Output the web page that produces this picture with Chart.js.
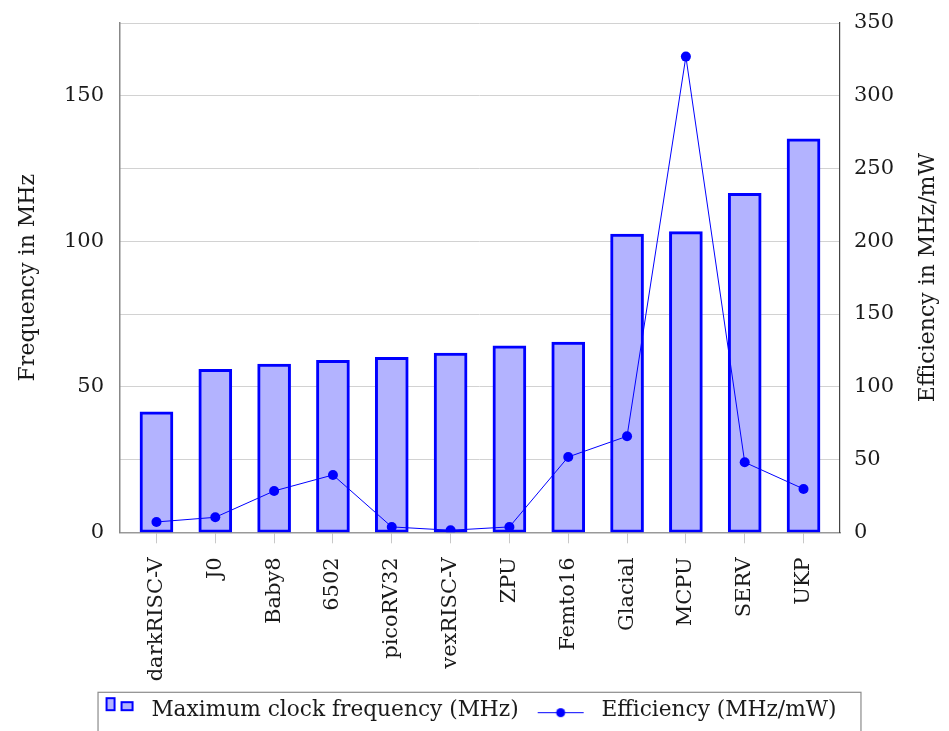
<!DOCTYPE html>
<html>
<head>
<meta charset="utf-8">
<script src="https://cdn.jsdelivr.net/npm/chart.js@4.4.0/dist/chart.umd.min.js"></script>
<style>
  html, body { margin: 0; padding: 0; background: #fff; }
  #wrap { width: 949px; height: 731px; }
</style>
</head>
<body>
<div id="wrap"><canvas id="cpuChart"></canvas></div>
<script>
const categories = ['darkRISC-V', 'J0', 'Baby8', '6502', 'picoRV32', 'vexRISC-V', 'ZPU', 'Femto16', 'Glacial', 'MCPU', 'SERV', 'UKP'];
const maxFrequency = [41.4, 56.0, 57.8, 59.1, 60.1, 61.6, 64.1, 65.4, 102.5, 103.3, 116.5, 135.2];
const efficiency = [7.1, 10.3, 28.4, 39.4, 3.7, 1.4, 3.7, 51.8, 66.0, 326.9, 48.1, 29.8];
const freqTicks = [0, 50, 100, 150];
const effTicks = [0, 50, 100, 150, 200, 250, 300, 350];

const serif = "'DejaVu Serif', serif";
const textColor = '#1a1a1a';
const blue = '#0000ff';
const lightBlue = '#b3b3ff';

// legend icons, drawn on small canvases
function barIcon() {
  const c = document.createElement('canvas');
  c.width = 62; c.height = 30;
  const g = c.getContext('2d');
  g.fillStyle = lightBlue;
  g.strokeStyle = blue;
  g.lineWidth = 2;
  g.fillRect(28, 3, 8, 12); g.strokeRect(28, 3, 8, 12);
  g.fillRect(43, 7, 11, 8); g.strokeRect(43, 7, 11, 8);
  return c;
}
function lineIcon() {
  const c = document.createElement('canvas');
  c.width = 62; c.height = 30;
  const g = c.getContext('2d');
  g.strokeStyle = blue;
  g.lineWidth = 1;
  g.beginPath(); g.moveTo(9, 17.5); g.lineTo(55, 17.5); g.stroke();
  g.fillStyle = blue;
  g.beginPath(); g.arc(32, 17.5, 4.5, 0, Math.PI * 2); g.fill();
  return c;
}
const icons = [barIcon(), lineIcon()];

// frame round the legend and the right axis title
const extras = {
  id: 'extras',
  afterDraw(chart) {
    const ctx = chart.ctx;
    const boxes = chart.legend.legendHitBoxes;
    if (boxes && boxes.length) {
      const first = boxes[0], last = boxes[boxes.length - 1];
      ctx.save();
      ctx.strokeStyle = '#8c8c8c';
      ctx.lineWidth = 1.2;
      ctx.strokeRect(first.left + 19.5, first.top - 7, last.left + last.width - first.left + 5, 60);
      ctx.restore();
    }
    const area = chart.chartArea;
    ctx.save();
    ctx.translate(928, (area.top + area.bottom) / 2);
    ctx.rotate(-Math.PI / 2);
    ctx.font = '22px ' + serif;
    ctx.fillStyle = textColor;
    ctx.textAlign = 'center';
    ctx.textBaseline = 'middle';
    ctx.fillText('Efficiency in MHz/mW', 0, 0);
    ctx.restore();
  }
};

const noPad = s => { s.paddingTop = 0; s.paddingBottom = 0; };

new Chart(document.getElementById('cpuChart'), {
  type: 'bar',
  data: {
    datasets: [{
      type: 'bar',
      label: 'Maximum clock frequency (MHz)',
      data: categories.map((c, i) => ({ x: i, y: maxFrequency[i] })),
      backgroundColor: lightBlue,
      borderColor: blue,
      borderWidth: 3,
      borderSkipped: false,
      barThickness: 33,
      yAxisID: 'yFreq',
      order: 2
    }, {
      type: 'line',
      label: 'Efficiency (MHz/mW)',
      data: categories.map((c, i) => ({ x: i, y: efficiency[i] })),
      borderColor: blue,
      backgroundColor: blue,
      borderWidth: 1,
      pointRadius: 5,
      pointBackgroundColor: blue,
      pointBorderWidth: 0,
      tension: 0,
      yAxisID: 'yEff',
      order: 1
    }]
  },
  options: {
    responsive: true,
    maintainAspectRatio: false,
    animation: false,
    layout: { padding: { top: 23, right: 34, left: 0, bottom: 0 } },
    plugins: {
      tooltip: { enabled: false },
      legend: {
        position: 'bottom',
        labels: {
          usePointStyle: true,
          pointStyleWidth: 62,
          padding: 10,
          color: textColor,
          font: { family: serif, size: 21.7 },
          sort: (a, b) => a.datasetIndex - b.datasetIndex,
          generateLabels(chart) {
            const items = Chart.defaults.plugins.legend.labels.generateLabels(chart);
            items.forEach(it => { it.pointStyle = icons[it.datasetIndex]; });
            return items;
          }
        }
      }
    },
    scales: {
      x: {
        type: 'linear',
        offset: false,
        min: -0.62,
        max: 11.62,
        afterBuildTicks: s => { s.ticks = categories.map((c, i) => ({ value: i })); },
        afterFit: s => { s.height = 157; },
        ticks: {
          callback: v => categories[v],
          minRotation: 90,
          maxRotation: 90,
          autoSkip: false,
          padding: 14,
          color: textColor,
          font: { family: serif, size: 21 }
        },
        grid: { offset: false, drawOnChartArea: false, drawTicks: true, tickLength: 11, color: '#c8c8c8' },
        border: { color: '#999999', width: 1.5 }
      },
      yFreq: {
        position: 'left',
        min: 0,
        max: 175,
        afterBuildTicks: s => { s.ticks = freqTicks.map(v => ({ value: v })); },
        afterFit: s => { s.width = 120; noPad(s); },
        ticks: { padding: 8, color: textColor, font: { family: serif, size: 21 } },
        grid: { display: false },
        border: { color: '#888888', width: 1.5 },
        title: {
          display: true,
          text: 'Frequency in MHz',
          color: textColor,
          font: { family: serif, size: 22 },
          padding: { top: 15, bottom: 0 }
        }
      },
      yEff: {
        position: 'right',
        min: 0,
        max: 350,
        afterBuildTicks: s => { s.ticks = effTicks.map(v => ({ value: v })); },
        afterFit: s => { s.width = 75; noPad(s); },
        ticks: { padding: 14, color: textColor, font: { family: serif, size: 21 } },
        grid: { color: '#d2d2d2', lineWidth: 1, drawTicks: false },
        border: { color: '#444444', width: 1.2 }
      }
    }
  },
  plugins: [extras]
});
</script>
</body>
</html>
